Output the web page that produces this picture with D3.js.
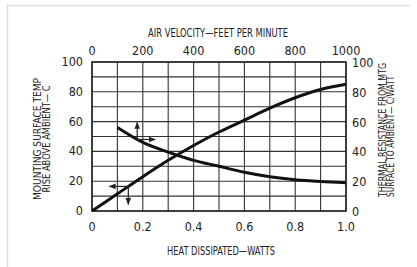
<!DOCTYPE html>
<html lang="en">
<head>
<meta charset="utf-8">
<title>Heat dissipated vs thermal resistance</title>
<script src="https://d3js.org/d3.v7.min.js"></script>
<style>
  body { margin: 0; background: #fff; }
  text { font-family: "Liberation Sans Narrow", "DejaVu Sans Condensed", "Arial Narrow", sans-serif; font-stretch: condensed; fill: #222; }
</style>
</head>
<body>
<script>
// temperature rise vs heat dissipated (left / bottom axes)
var watts = [0, 0.1, 0.2, 0.3, 0.4, 0.5, 0.6, 0.7, 0.8, 0.9, 1.0];
var tempRise = [0, 11.5, 23, 34, 44, 53, 61, 69, 76, 81.5, 85];

// thermal resistance vs air velocity (right / top axes)
var airVel = [100, 200, 300, 400, 500, 600, 700, 800, 900, 1000];
var resistance = [56, 46, 39.5, 34, 30, 26, 23, 21, 19.8, 19];

var wattTicks = [0, 0.2, 0.4, 0.6, 0.8, 1.0];
var velTicks = [0, 200, 400, 600, 800, 1000];
var yTicks = [0, 20, 40, 60, 80, 100];

var w = 417, h = 267;
var pL = 92, pR = 346, pT = 62, pB = 211;

var svg = d3.select("body").append("svg")
  .attr("width", w).attr("height", h);

// light frame
svg.append("path").attr("d", "M7.5,267V5.5H410")
  .attr("fill", "none").attr("stroke", "#ddd").attr("stroke-width", 1.5);

var x = d3.scaleLinear().domain([0, 1]).range([pL, pR]);
var xTop = d3.scaleLinear().domain([0, 1000]).range([pL, pR]);
var y = d3.scaleLinear().domain([0, 100]).range([pB, pT]);

// grid
var g = svg.append("g").attr("stroke", "#333").attr("stroke-width", 1.1);
g.selectAll("line.v").data(d3.range(0, 1.01, 0.1)).enter().append("line")
  .attr("x1", d => x(d)).attr("x2", d => x(d)).attr("y1", pT).attr("y2", pB);
g.selectAll("line.h").data(d3.range(0, 101, 10)).enter().append("line")
  .attr("y1", d => y(d)).attr("y2", d => y(d)).attr("x1", pL).attr("x2", pR);
svg.append("rect").attr("x", pL).attr("y", pT)
  .attr("width", pR - pL).attr("height", pB - pT)
  .attr("fill", "none").attr("stroke", "#222").attr("stroke-width", 1.5);

// tick labels
var fs = 12.5;
svg.selectAll("text.xb").data(wattTicks).enter().append("text")
  .attr("x", d => x(d)).attr("y", 231).attr("text-anchor", "middle")
  .attr("font-size", fs).text(d => d === 0 ? "0" : d3.format(".1f")(d));
svg.selectAll("text.xt").data(velTicks).enter().append("text")
  .attr("x", d => xTop(d)).attr("y", 55).attr("text-anchor", "middle")
  .attr("font-size", fs).text(d => d);
svg.selectAll("text.yl").data(yTicks).enter().append("text")
  .attr("x", 83).attr("y", d => y(d) + 4).attr("text-anchor", "end")
  .attr("font-size", fs).text(d => d);
svg.selectAll("text.yr").data(yTicks).enter().append("text")
  .attr("x", 352).attr("y", d => y(d) + 5).attr("text-anchor", "start")
  .attr("font-size", fs).text(d => d);

// axis titles
svg.append("text").attr("x", 218).attr("y", 37).attr("text-anchor", "middle")
  .attr("font-size", 13).attr("textLength", 140).attr("lengthAdjust", "spacingAndGlyphs")
  .text("AIR VELOCITY\u2014FEET PER MINUTE");
svg.append("text").attr("x", 221).attr("y", 255).attr("text-anchor", "middle")
  .attr("font-size", 13).attr("textLength", 108).attr("lengthAdjust", "spacingAndGlyphs")
  .text("HEAT DISSIPATED\u2014WATTS");

function vtitle(cx, cy, len, s) {
  svg.append("text").attr("transform", `translate(${cx},${cy}) rotate(-90)`)
    .attr("text-anchor", "middle").attr("font-size", 10.5)
    .attr("textLength", len).attr("lengthAdjust", "spacingAndGlyphs").text(s);
}
vtitle(41, 139, 122, "MOUNTING SURFACE TEMP");
vtitle(50, 139, 107, "RISE ABOVE AMBIENT\u2014 C");
vtitle(385.5, 130, 134, "THERMAL RESISTANCE FROM MTG");
vtitle(393.5, 136.5, 121, "SURFACE TO AMBIENT\u2014 C/WATT");

// curves
var tempLine = d3.line().curve(d3.curveMonotoneX)
  .x(d => x(d[0])).y(d => y(d[1]));
var resLine = d3.line().curve(d3.curveMonotoneX)
  .x(d => xTop(d[0])).y(d => y(d[1]));
svg.append("path").attr("d", tempLine(d3.zip(watts, tempRise)))
  .attr("fill", "none").attr("stroke", "#111").attr("stroke-width", 3);
svg.append("path").attr("d", resLine(d3.zip(airVel, resistance)))
  .attr("fill", "none").attr("stroke", "#111").attr("stroke-width", 3);

// arrows
var defs = svg.append("defs");
defs.append("marker").attr("id", "ah").attr("viewBox", "0 0 10 10")
  .attr("refX", 9).attr("refY", 5).attr("markerWidth", 7).attr("markerHeight", 7)
  .attr("markerUnits", "userSpaceOnUse").attr("orient", "auto")
  .append("path").attr("d", "M0,1L10,5L0,9Z").attr("fill", "#222");

function arrow(x1, y1, x2, y2) {
  svg.append("line").attr("x1", x1).attr("y1", y1).attr("x2", x2).attr("y2", y2)
    .attr("stroke", "#222").attr("stroke-width", 1.2).attr("marker-end", "url(#ah)");
}
var tx = x(0.143), ty = y(16.5);
arrow(tx, ty, tx - 19, ty);
arrow(tx, ty, tx, ty + 18);
var rx = xTop(178), ry = y(48);
arrow(rx, ry, rx, ry - 17);
arrow(rx, ry, rx + 18, ry);
</script>
</body>
</html>
